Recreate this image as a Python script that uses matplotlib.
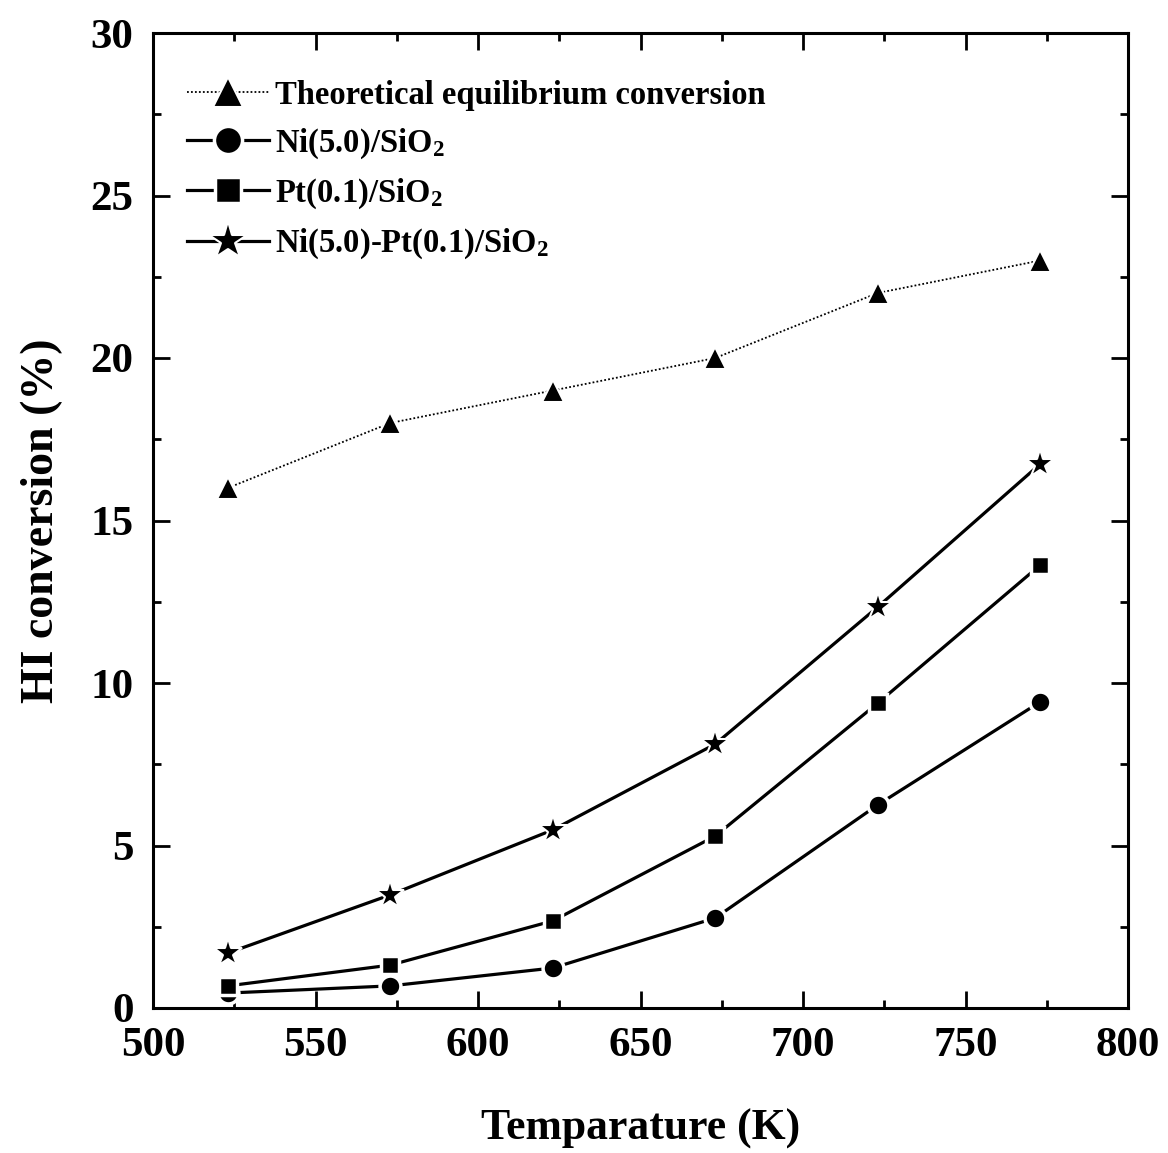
import matplotlib
matplotlib.use("Agg")
import matplotlib.pyplot as plt
from matplotlib.ticker import MultipleLocator

plt.rcParams['font.family'] = 'Liberation Serif'
plt.rcParams['font.weight'] = 'bold'
plt.rcParams['axes.labelweight'] = 'bold'
plt.rcParams['mathtext.fontset'] = 'custom'
plt.rcParams['mathtext.rm'] = 'Liberation Serif:bold'
plt.rcParams['mathtext.default'] = 'rm'

# reaction temperatures (K)
temp = [523, 573, 623, 673, 723, 773]

# HI conversion (%)
theoretical = [16.0, 18.0, 19.0, 20.0, 22.0, 23.0]
ni = [0.46, 0.68, 1.23, 2.77, 6.25, 9.42]
pt = [0.68, 1.32, 2.68, 5.29, 9.38, 13.63]
nipt = [1.69, 3.48, 5.48, 8.12, 12.34, 16.74]

labels = ["Theoretical equilibrium conversion",
          r"Ni(5.0)/SiO$_{2}$",
          r"Pt(0.1)/SiO$_{2}$",
          r"Ni(5.0)-Pt(0.1)/SiO$_{2}$"]

fig = plt.figure(figsize=(11.68, 11.53), dpi=100)
ax = fig.add_axes([153/1168, 145/1153, 975/1168, 975/1153])

# white marker edges give the small gap between line and symbol
ax.plot(temp, theoretical, color='black', lw=1.3, ls=(0, (1, 1.2)),
        marker='^', ms=16, mfc='black', mec='white', mew=1.5, label=labels[0])
ax.plot(temp, ni, color='black', lw=2.3, marker='o', ms=15,
        mfc='black', mec='white', mew=2.5, label=labels[1])
ax.plot(temp, pt, color='black', lw=2.3, marker='s', ms=13.5,
        mfc='black', mec='white', mew=2.5, label=labels[2])
ax.plot(temp, nipt, color='black', lw=2.3, marker='*', ms=21,
        mfc='black', mec='white', mew=1.5, label=labels[3])

ax.set_xlim(500, 800)
ax.set_ylim(0, 30)
ax.xaxis.set_major_locator(MultipleLocator(50))
ax.xaxis.set_minor_locator(MultipleLocator(25))
ax.yaxis.set_major_locator(MultipleLocator(5))
ax.yaxis.set_minor_locator(MultipleLocator(2.5))

for s in ax.spines.values():
    s.set_linewidth(2.2)
ax.tick_params(which='both', direction='in', top=True, right=True,
               width=2.0, labelsize=31, pad=14)
ax.tick_params(which='major', length=12)
ax.tick_params(which='minor', length=6)

ax.set_xlabel("Temparature (K)", fontsize=31.5, labelpad=31)
ax.set_ylabel("HI conversion (%)", fontsize=33, labelpad=20)

ax.legend(loc='upper left', bbox_to_anchor=(0.035, 0.952), frameon=False,
          fontsize=23.5, handlelength=2.5, handletextpad=0.2, markerscale=1.35,
          labelspacing=0.48, borderaxespad=0, borderpad=0)

fig.savefig("out.png", dpi=100)
